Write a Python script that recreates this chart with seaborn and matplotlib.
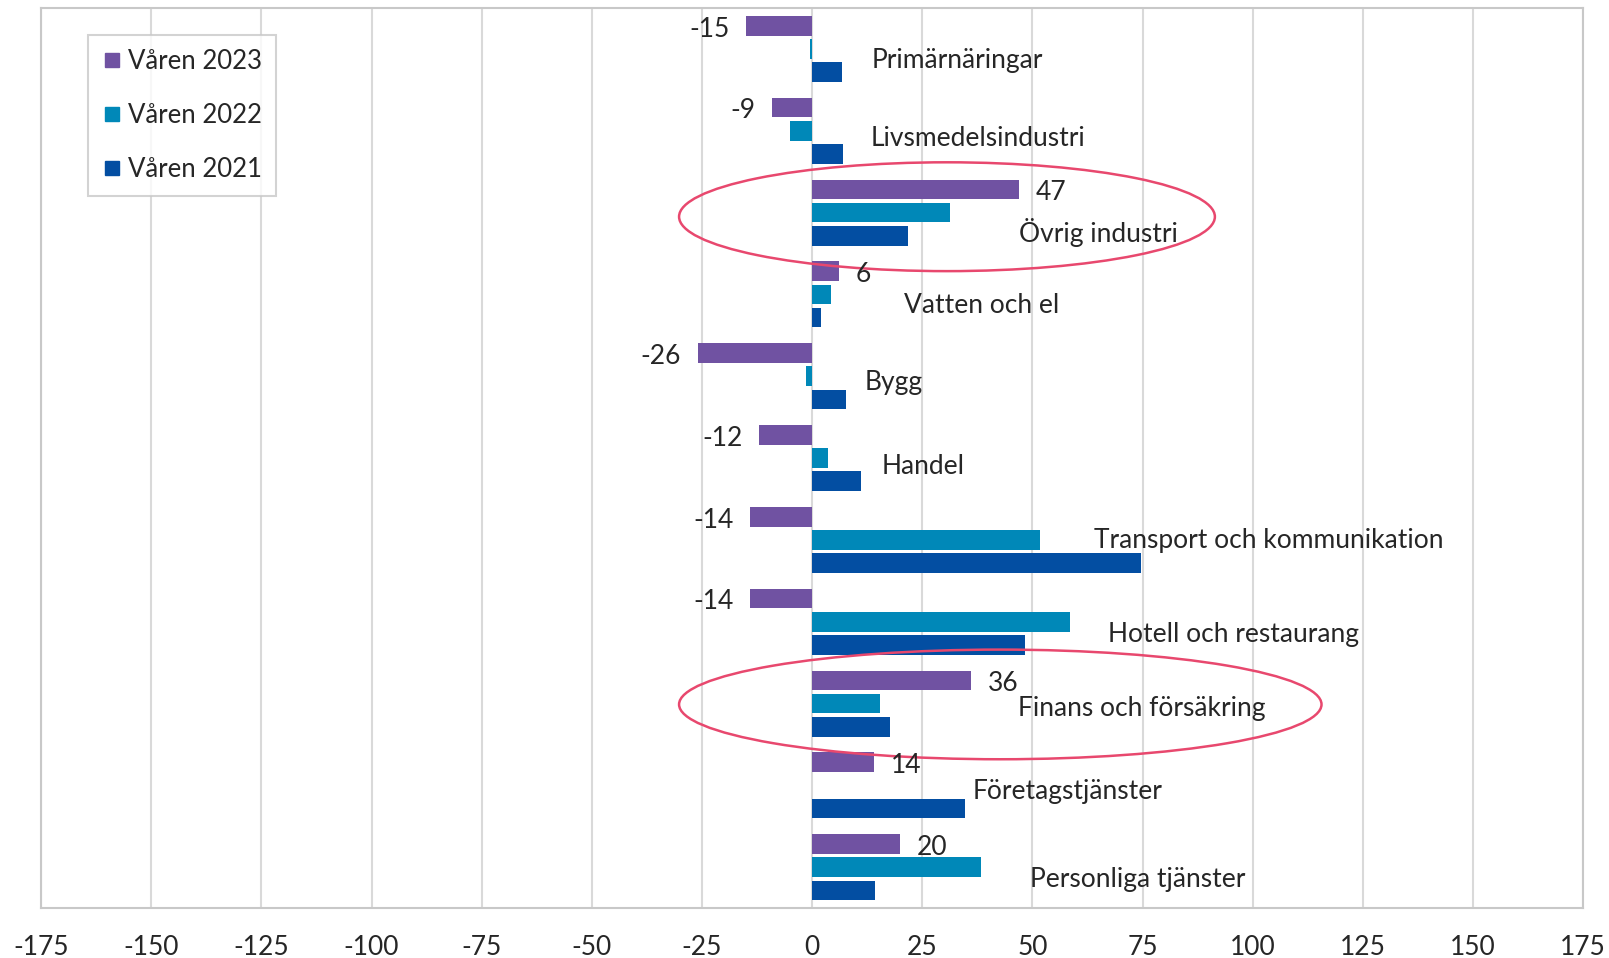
import numpy as np
import pandas as pd
import seaborn as sns
import matplotlib.pyplot as plt
from matplotlib.patches import Ellipse
from matplotlib.lines import Line2D

# Branscher och nettotal per vår
branscher = ["Primärnäringar", "Livsmedelsindustri", "Övrig industri", "Vatten och el",
             "Bygg", "Handel", "Transport och kommunikation", "Hotell och restaurang",
             "Finans och försäkring", "Företagstjänster", "Personliga tjänster"]
varen_2023 = [-15, -9, 47, 6, -26, -12, -14, -14, 36, 14, 20]
varen_2022 = [-0.4, -5, 31.3, 4.3, -1.4, 3.5, 51.6, 58.5, 15.4, np.nan, 38.3]
varen_2021 = [6.8, 6.9, 21.7, 2.1, 7.7, 11.1, 74.7, 48.3, 17.6, 34.6, 14.3]
serier = ["Våren 2023", "Våren 2022", "Våren 2021"]
farger = ["#7052A2", "#0088B8", "#034EA2"]

# var branschnamnen står (x i dataenheter, y-förskjutning i kategorienheter)
namn_x = [13.4, 13.2, 46.9, 20.9, 11.8, 15.7, 64.0, 67.1, 46.8, 36.4, 49.4]
namn_dy = [0.14, 0.10, 0.24, 0.13, 0.07, 0.10, 0.01, 0.15, 0.06, 0.08, 0.15]

df = pd.DataFrame({
    "Bransch": branscher * 3,
    "Värde": varen_2023 + varen_2022 + varen_2021,
    "Serie": [serier[0]] * 11 + [serier[1]] * 11 + [serier[2]] * 11,
})

sns.set_style("white")
plt.rcParams["font.family"] = ["Lato", "DejaVu Sans"]
plt.rcParams["axes.unicode_minus"] = False

fig = plt.figure(figsize=(16.09, 9.58), dpi=100)
ax = fig.add_axes([0.0255, 0.052, 0.9585, 0.9396])

sns.barplot(data=df, x="Värde", y="Bransch", hue="Serie", hue_order=serier,
            palette=farger, saturation=1, orient="h", width=0.85, gap=0.15,
            linewidth=0, legend=False, ax=ax)

ax.set_xlim(-175, 175)
ax.set_ylim(10.5, -0.5)
ax.set_xticks(np.arange(-175, 176, 25))
ax.tick_params(axis="x", labelsize=19, pad=19, length=0)
ax.set_yticks([])
ax.set_xlabel("")
ax.set_ylabel("")
ax.grid(axis="x", color="#D9D9D9", linewidth=1.5)
ax.set_axisbelow(True)
for s in ax.spines.values():
    s.set_color("#C8C8C8")
    s.set_linewidth(1.5)

# värdeetiketter för våren 2023
for i, v in enumerate(varen_2023):
    y = i - 0.85 / 3 + 0.04
    if v < 0:
        ax.text(v - 3.8, y, str(v), ha="right", va="center", fontsize=19)
    else:
        ax.text(v + 3.8, y, str(v), ha="left", va="center", fontsize=19)

# branschnamn
for i, namn in enumerate(branscher):
    ax.text(namn_x[i], i + namn_dy[i], namn, ha="left", va="center", fontsize=19)

# markeringar
ax.add_patch(Ellipse((30.6, 2.05), 121.6, 1.33, fill=False, edgecolor="#E8486E", linewidth=1.8))
ax.add_patch(Ellipse((42.7, 8.01), 145.8, 1.34, fill=False, edgecolor="#E8486E", linewidth=1.8))

handles = [Line2D([], [], marker="s", linestyle="", color=c, markersize=10) for c in farger]
leg = ax.legend(handles, serier, loc="upper left", bbox_to_anchor=(0.0305, 0.97),
                borderaxespad=0, fontsize=18.5, labelspacing=1.12, handletextpad=0.2,
                handlelength=0.8, frameon=True, fancybox=False, borderpad=0.55)
leg.get_frame().set_edgecolor("#C8C8C8")
leg.get_frame().set_linewidth(1.5)

plt.savefig("out.png", dpi=100)
